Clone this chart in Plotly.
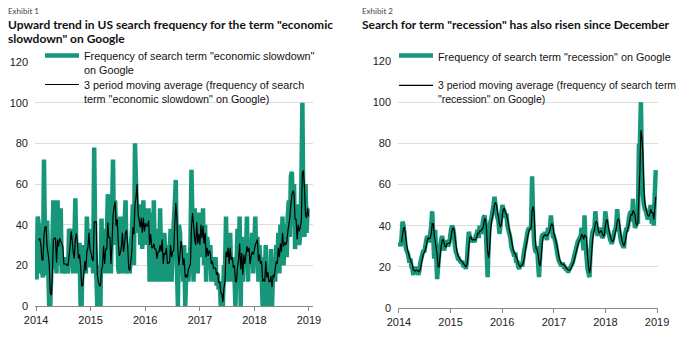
import pandas as pd
import plotly.graph_objects as go

# ---- Exhibit 1: weekly Google search frequency, "economic slowdown" ----
econ_2014 = [13, 44, 40, 16, 35, 18, 14, 72, 30, 15, 42, 20, 0, 0, 16, 30, 52, 18, 30, 16,
             52, 20, 28, 48, 16, 24, 22, 16, 24, 20, 16, 38, 34, 38, 24, 16, 30, 53, 24, 16,
             30, 30, 0, 0, 30, 16, 20, 16, 44, 26, 38, 20]
econ_2015 = [20, 30, 16, 78, 30, 16, 0, 20, 10, 0, 43, 16, 30, 16, 38, 30, 55, 16, 30, 16,
             44, 72, 30, 52, 36, 40, 18, 16, 44, 28, 36, 16, 40, 52, 20, 16, 20, 16, 30, 36,
             50, 20, 80, 60, 40, 36, 50, 30, 50, 28, 52, 30]
econ_2016 = [40, 48, 30, 48, 12, 46, 28, 12, 52, 20, 12, 38, 30, 12, 48, 20, 30, 12, 36, 28,
             22, 12, 30, 22, 38, 12, 30, 40, 50, 62, 20, 0, 40, 36, 20, 28, 12, 30, 0, 16,
             26, 12, 20, 30, 67, 40, 12, 48, 30, 46, 16, 44]
econ_2017 = [30, 46, 24, 48, 20, 40, 12, 34, 28, 20, 30, 12, 24, 20, 12, 24, 10, 16, 8, 12,
             0, 6, 0, 20, 16, 44, 12, 30, 20, 36, 12, 24, 20, 16, 0, 20, 38, 10, 44, 0,
             34, 12, 30, 20, 24, 44, 12, 30, 20, 24, 36, 16]
econ_2018 = [30, 44, 20, 34, 12, 30, 20, 16, 0, 24, 12, 30, 0, 20, 16, 0, 28, 0, 18, 24,
             12, 30, 20, 36, 16, 40, 24, 44, 20, 30, 40, 24, 44, 52, 34, 64, 66, 40, 60, 28,
             40, 30, 50, 30, 36, 60, 100, 40, 34, 60, 36, 48, 48]

# ---- Exhibit 2: weekly Google search frequency, "recession" ----
rec_2014 = [32, 30, 34, 42, 40, 36, 30, 28, 27, 25, 22, 24, 20, 19, 16, 20, 18, 17, 20, 16,
            18, 22, 24, 26, 28, 27, 30, 33, 35, 34, 32, 36, 40, 47, 36, 24, 38, 26, 14, 20,
            26, 30, 33, 35, 32, 28, 30, 31, 33, 30, 31, 34]
rec_2015 = [38, 40, 39, 36, 30, 27, 26, 24, 24, 23, 22, 23, 21, 20, 21, 19, 22, 30, 37, 35,
            32, 33, 34, 33, 32, 35, 36, 38, 34, 40, 38, 36, 41, 44, 45, 40, 28, 15, 30, 40,
            42, 44, 47, 50, 54, 50, 46, 44, 42, 36, 40, 46]
rec_2016 = [50, 48, 47, 44, 46, 40, 38, 36, 34, 30, 28, 27, 25, 27, 22, 23, 20, 19, 21, 22,
            20, 24, 28, 30, 33, 36, 38, 39, 38, 40, 64, 44, 32, 28, 27, 30, 22, 15, 24, 32,
            35, 36, 34, 37, 35, 33, 39, 37, 38, 45, 40, 35]
rec_2017 = [35, 33, 31, 28, 25, 23, 22, 21, 21, 22, 20, 20, 19, 19, 18, 18, 19, 20, 21, 22,
            24, 26, 28, 30, 32, 33, 34, 34, 39, 33, 28, 45, 32, 25, 19, 17, 15, 27, 33, 37,
            38, 39, 47, 40, 36, 36, 37, 39, 36, 34, 35, 37]
rec_2018 = [47, 43, 39, 37, 35, 33, 32, 32, 34, 37, 38, 40, 48, 42, 38, 35, 32, 31, 30, 30,
            36, 38, 38, 40, 44, 46, 47, 42, 53, 44, 39, 40, 42, 42, 79, 80, 100, 70, 55, 50,
            48, 47, 45, 43, 46, 48, 50, 41, 48, 40, 55, 67]

econ = econ_2014 + econ_2015 + econ_2016 + econ_2017 + econ_2018
rec = rec_2014 + rec_2015 + rec_2016 + rec_2017 + rec_2018
econ_dates = pd.date_range("2014-01-05", periods=len(econ), freq="7D")
rec_dates = pd.date_range("2014-01-05", periods=len(rec), freq="7D")
econ_ma = pd.Series(econ).rolling(3).mean()
rec_ma = pd.Series(rec).rolling(3).mean()

grid_ticks = [0, 20, 40, 60, 80, 100]
top_tick = [120]

W, H = 680, 339
GREEN = "#16977a"
AXIS_FONT = dict(family="Liberation Sans, Arial, sans-serif", size=11, color="#222")
LEG_FONT = dict(family="Liberation Sans, Arial, sans-serif", size=10.8, color="#111")
LEG_FONT_SM = dict(family="Liberation Sans, Arial, sans-serif", size=10.5, color="#111")
TITLE_FONT = dict(family="Lato, sans-serif", size=12, color="#111", weight=700)
EXH_FONT = dict(family="Lato, sans-serif", size=8, color="#444")

fig = go.Figure()
fig.add_trace(go.Scatter(x=econ_dates, y=econ, mode="lines",
                         line=dict(color=GREEN, width=4.5, simplify=False),
                         name='Frequency of search term "economic slowdown"<br>on Google',
                         xaxis="x", yaxis="y", legend="legend"))
fig.add_trace(go.Scatter(x=econ_dates, y=econ_ma, mode="lines",
                         line=dict(color="#000", width=1.2, simplify=False),
                         name='3 period moving average (frequency of search<br>term "economic slowdown" on Google)',
                         xaxis="x", yaxis="y", legend="legend3"))
fig.add_trace(go.Scatter(x=rec_dates, y=rec, mode="lines",
                         line=dict(color=GREEN, width=4.5, simplify=False),
                         name='Frequency of search term "recession" on Google',
                         xaxis="x2", yaxis="y2", legend="legend2"))
fig.add_trace(go.Scatter(x=rec_dates, y=rec_ma, mode="lines",
                         line=dict(color="#000", width=1.2, simplify=False),
                         name='3 period moving average (frequency of search term<br>"recession" on Google)',
                         xaxis="x2", yaxis="y2", legend="legend4"))
# empty traces so the overlay axes carrying the "120" label get drawn
fig.add_trace(go.Scatter(x=[], y=[], xaxis="x", yaxis="y3", showlegend=False, hoverinfo="skip"))
fig.add_trace(go.Scatter(x=[], y=[], xaxis="x2", yaxis="y4", showlegend=False, hoverinfo="skip"))

xcommon = dict(type="date", dtick="M12", tick0="2014-01-01", tickformat="%Y",
               ticks="outside", ticklen=4, tickcolor="#888", showline=True,
               linecolor="#888", linewidth=1, showgrid=False, zeroline=False,
               tickfont=AXIS_FONT, fixedrange=True)
ycommon = dict(range=[0, 120], showgrid=True, gridcolor="#dddddd",
               gridwidth=1, zeroline=False, showline=False, ticks="",
               ticklabelstandoff=6, tickfont=AXIS_FONT, fixedrange=True)
ytop = dict(range=[0, 120], tickvals=top_tick, showgrid=False, zeroline=False,
            showline=False, ticks="", ticklabelstandoff=6, tickfont=AXIS_FONT,
            fixedrange=True, side="left")

legcommon = dict(xanchor="left", yanchor="top", bgcolor="rgba(255,255,255,0)",
                 valign="top", borderwidth=0, itemwidth=34, tracegroupgap=0)

fig.update_layout(
    width=W, height=H,
    margin=dict(l=0, r=0, t=0, b=0, autoexpand=False),
    paper_bgcolor="white", plot_bgcolor="white",
    showlegend=True,
    xaxis=dict(domain=[35 / W, 313 / W], range=["2013-12-25", "2019-01-28"],
               anchor="y", **xcommon),
    yaxis=dict(domain=[1 - 306 / H, 1 - 62 / H], anchor="x", tickvals=grid_ticks, **ycommon),
    yaxis3=dict(domain=[1 - 306 / H, 1 - 62 / H], anchor="x", overlaying="y", **ytop),
    xaxis2=dict(domain=[398 / W, 658 / W], range=["2013-12-25", "2019-01-08"],
                anchor="y2", **xcommon),
    yaxis2=dict(domain=[1 - 308 / H, 1 - 61 / H], anchor="x2", tickvals=grid_ticks, **ycommon),
    yaxis4=dict(domain=[1 - 308 / H, 1 - 61 / H], anchor="x2", overlaying="y2", **ytop),
    legend=dict(x=40 / W, y=1 - 42 / H, font=LEG_FONT, **legcommon),
    legend3=dict(x=40 / W, y=1 - 71 / H, font=LEG_FONT, **legcommon),
    legend2=dict(x=394 / W, y=1 - 42 / H, font=LEG_FONT, **legcommon),
    legend4=dict(x=394 / W, y=1 - 72 / H, font=LEG_FONT_SM, **legcommon),
    annotations=[
        dict(text="Exhibit 1", x=6 / W, y=1 - 11 / H, xref="paper", yref="paper",
             xanchor="left", yanchor="middle", showarrow=False, font=EXH_FONT),
        dict(text='Upward trend in US search frequency for the term "economic',
             x=6 / W, y=1 - 24 / H, xref="paper", yref="paper",
             xanchor="left", yanchor="middle", showarrow=False, font=TITLE_FONT),
        dict(text='slowdown" on Google',
             x=6 / W, y=1 - 38 / H, xref="paper", yref="paper",
             xanchor="left", yanchor="middle", showarrow=False, font=TITLE_FONT),
        dict(text="Exhibit 2", x=360 / W, y=1 - 11 / H, xref="paper", yref="paper",
             xanchor="left", yanchor="middle", showarrow=False, font=EXH_FONT),
        dict(text='Search for term "recession" has also risen since December',
             x=360 / W, y=1 - 24 / H, xref="paper", yref="paper",
             xanchor="left", yanchor="middle", showarrow=False, font=TITLE_FONT),
    ],
)

fig.write_html("out.html")
